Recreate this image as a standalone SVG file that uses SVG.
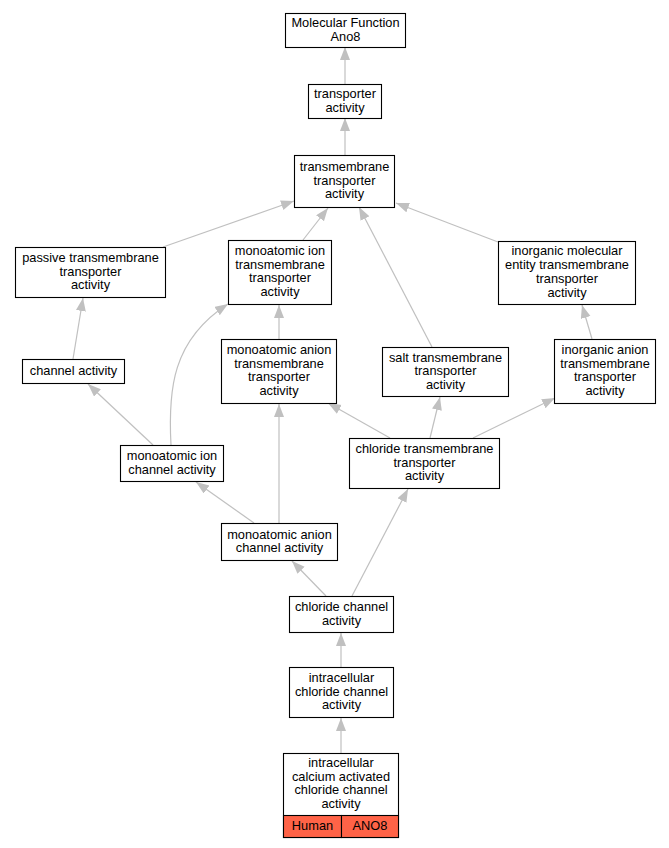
<svg xmlns="http://www.w3.org/2000/svg" width="669" height="848" viewBox="0 0 669 848">
<defs>
<style>
.n rect{fill:#fff;stroke:#000;stroke-width:1.1}
.n text{font-family:"Liberation Sans",Arial,sans-serif;font-size:12.8px;text-anchor:middle;fill:#000;transform:translateY(-1px)}
.e{fill:none;stroke:#c0c0c0;stroke-width:1.2;marker-end:url(#ah)}
</style>
<marker id="ah" markerUnits="userSpaceOnUse" markerWidth="14" markerHeight="11" refX="13" refY="5" orient="auto" viewBox="0 0 14 11">
<path d="M0,0 L13,5 L0,10 z" fill="#c0c0c0"/>
</marker>
</defs>
<rect width="669" height="848" fill="#fff"/>
<g id="edges">
<line class="e" x1="345" y1="84" x2="345" y2="47"/>
<line class="e" x1="345" y1="155" x2="345" y2="118"/>
<line class="e" x1="163" y1="247" x2="294" y2="201"/>
<line class="e" x1="303" y1="240" x2="328" y2="208"/>
<line class="e" x1="498" y1="242" x2="396" y2="203"/>
<line class="e" x1="432" y1="347" x2="359" y2="207"/>
<line class="e" x1="73" y1="359" x2="83" y2="298"/>
<line class="e" x1="153" y1="445" x2="88" y2="384"/>
<path class="e" d="M171,445 C168,390 172,340 228,304"/>
<line class="e" x1="279" y1="339" x2="279" y2="305"/>
<line class="e" x1="390" y1="438" x2="328" y2="403"/>
<line class="e" x1="430" y1="438" x2="440" y2="397"/>
<line class="e" x1="473" y1="438" x2="555" y2="398"/>
<line class="e" x1="592" y1="339" x2="582" y2="305"/>
<line class="e" x1="254" y1="523" x2="196" y2="482"/>
<line class="e" x1="279" y1="523" x2="279" y2="404"/>
<line class="e" x1="326" y1="596" x2="292" y2="561"/>
<line class="e" x1="352" y1="596" x2="408" y2="489"/>
<line class="e" x1="341" y1="667" x2="341" y2="633"/>
<line class="e" x1="341" y1="753" x2="341" y2="718"/>
</g>
<g id="n1" class="n"><rect x="285.5" y="13.5" width="120" height="34"/><text x="345.5" y="28">Molecular Function</text><text x="345.5" y="41.8">Ano8</text></g>
<g id="n2" class="n"><rect x="308.5" y="84.5" width="73" height="34"/><text x="345" y="99">transporter</text><text x="345" y="112.8">activity</text></g>
<g id="n3" class="n"><rect x="294.5" y="155.5" width="100" height="52"/><text x="344.5" y="171.7">transmembrane</text><text x="344.5" y="185.5">transporter</text><text x="344.5" y="199.3">activity</text></g>
<g id="n4" class="n"><rect x="15.5" y="247.5" width="150" height="50"/><text x="90.5" y="262.7">passive transmembrane</text><text x="90.5" y="276.5">transporter</text><text x="90.5" y="290.3">activity</text></g>
<g id="n5" class="n"><rect x="228.5" y="240.5" width="103" height="64"/><text x="280" y="255.8">monoatomic ion</text><text x="280" y="269.6">transmembrane</text><text x="280" y="283.4">transporter</text><text x="280" y="297.2">activity</text></g>
<g id="n6" class="n"><rect x="498.5" y="241.5" width="137" height="63"/><text x="567" y="256.3">inorganic molecular</text><text x="567" y="270.1">entity transmembrane</text><text x="567" y="283.9">transporter</text><text x="567" y="297.7">activity</text></g>
<g id="n7" class="n"><rect x="22.5" y="359.5" width="102" height="24"/><text x="73.5" y="376">channel activity</text></g>
<g id="n8" class="n"><rect x="221.5" y="339.5" width="115" height="64"/><text x="279" y="354.8">monoatomic anion</text><text x="279" y="368.6">transmembrane</text><text x="279" y="382.4">transporter</text><text x="279" y="396.2">activity</text></g>
<g id="n9" class="n"><rect x="120.5" y="445.5" width="103" height="36"/><text x="172" y="461">monoatomic ion</text><text x="172" y="474.8">channel activity</text></g>
<g id="n10" class="n"><rect x="382.5" y="347.5" width="126" height="49"/><text x="445.5" y="362.5">salt transmembrane</text><text x="445.5" y="376.3">transporter</text><text x="445.5" y="390.1">activity</text></g>
<g id="n11" class="n"><rect x="554.5" y="339.5" width="101" height="64"/><text x="605" y="354.8">inorganic anion</text><text x="605" y="368.6">transmembrane</text><text x="605" y="382.4">transporter</text><text x="605" y="396.2">activity</text></g>
<g id="n12" class="n"><rect x="349.5" y="438.5" width="150" height="50"/><text x="424.5" y="453.7">chloride transmembrane</text><text x="424.5" y="467.5">transporter</text><text x="424.5" y="481.3">activity</text></g>
<g id="n13" class="n"><rect x="221.5" y="523.5" width="116" height="37"/><text x="279.5" y="539.5">monoatomic anion</text><text x="279.5" y="553.3">channel activity</text></g>
<g id="n14" class="n"><rect x="289.5" y="596.5" width="104" height="36"/><text x="341.5" y="611.7">chloride channel</text><text x="341.5" y="625.5">activity</text></g>
<g id="n15" class="n"><rect x="289.5" y="667.5" width="104" height="50"/><text x="341.5" y="682.7">intracellular</text><text x="341.5" y="696.5">chloride channel</text><text x="341.5" y="710.3">activity</text></g>
<g id="n16" class="n"><rect x="283.5" y="753.5" width="115" height="84"/><rect x="283.5" y="815.5" width="58" height="22" style="fill:#ff6347"/><rect x="341.5" y="815.5" width="57" height="22" style="fill:#ff6347"/><text x="341" y="767.8">intracellular</text><text x="341" y="781.6">calcium activated</text><text x="341" y="795.4">chloride channel</text><text x="341" y="809.2">activity</text><text x="312.5" y="831">Human</text><text x="370" y="831">ANO8</text></g>
</svg>
